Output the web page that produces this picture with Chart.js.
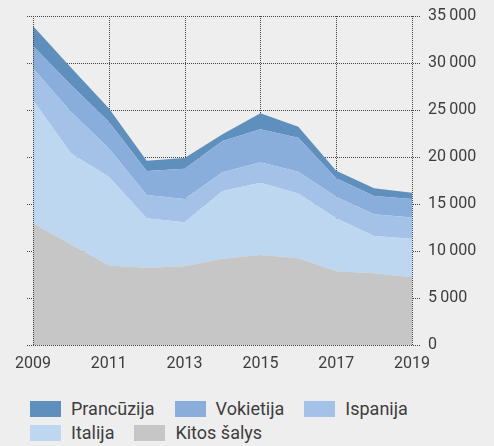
<!DOCTYPE html>
<html lang="lt">
  <head>
    <meta charset="utf-8" />
    <title>Eksportas pagal šalis</title>
    <script src="https://cdn.jsdelivr.net/npm/chart.js@4.4.0/dist/chart.umd.min.js"></script>
    <style>
      html,
      body {
        margin: 0;
        padding: 0;
        background: #eeeeee;
      }
      body {
        width: 494px;
        height: 446px;
        overflow: hidden;
        font-family: Roboto, sans-serif;
        color: #3d3d3d;
      }
      .chart-box {
        position: relative;
        width: 494px;
        height: 380px;
      }
      #legend {
        position: absolute;
        left: 30px;
        top: 397px;
        width: 440px;
        display: flex;
        flex-wrap: wrap;
        font-size: 18px;
        line-height: 24px;
      }
      #legend .item {
        display: flex;
        align-items: center;
        margin-right: 20px;
        height: 24px;
      }
      #legend .box {
        width: 31px;
        height: 16px;
        margin-right: 10px;
      }
    </style>
  </head>
  <body>
    <div class="chart-box">
      <canvas id="areaChart"></canvas>
    </div>
    <div id="legend"></div>

    <script>
      // years on the x axis, only every second one gets a label
      const years = [2009, 2010, 2011, 2012, 2013, 2014, 2015, 2016, 2017, 2018, 2019];
      const yTickLabels = ["0", "5\u2009000", "10\u2009000", "15\u2009000", "20\u2009000", "25\u2009000", "30\u2009000", "35\u2009000"];

      // series, bottom of the stack first
      const kitosSalys = [12950, 10700, 8450, 8220, 8370, 9180, 9570, 9220, 7840, 7630, 7200];
      const italija = [13110, 9690, 9450, 5260, 4680, 7200, 7700, 6910, 5640, 3970, 4110];
      const ispanija = [3370, 4430, 3020, 2480, 2480, 1990, 2160, 2310, 2300, 2300, 2250];
      const vokietija = [2380, 2840, 2840, 2550, 3230, 3330, 3510, 3620, 1950, 1950, 1970];
      const prancuzija = [2130, 1860, 1420, 1100, 1130, 710, 1710, 1170, 820, 820, 680];

      const gridColor = "#444444";

      // dotted grid: inner lines under the areas, frame lines on top
      const dottedGrid = {
        id: "dottedGrid",
        beforeDatasetsDraw(chart) {
          const { ctx, chartArea: a, scales } = chart;
          const x = scales.x, y = scales.y;
          ctx.save();
          ctx.strokeStyle = gridColor;
          ctx.lineWidth = 1;
          ctx.setLineDash([1, 1]);
          ctx.beginPath();
          y.ticks.forEach(function (t) {
            const py = Math.round(y.getPixelForValue(t.value)) + 0.5;
            ctx.moveTo(a.left - 6, py);
            ctx.lineTo(a.right + 9, py);
          });
          years.forEach(function (yr, i) {
            if (i % 2 === 0 && i > 0 && i < years.length - 1) {
              const px = Math.round(x.getPixelForValue(i)) + 0.5;
              ctx.moveTo(px, a.top);
              ctx.lineTo(px, a.bottom);
            }
          });
          ctx.stroke();
          ctx.restore();
        },
        afterDatasetsDraw(chart) {
          const { ctx, chartArea: a } = chart;
          const l = Math.round(a.left) + 0.5;
          const r = Math.round(a.right) + 0.5;
          const b = Math.round(a.bottom) + 0.5;
          ctx.save();
          ctx.strokeStyle = gridColor;
          ctx.lineWidth = 1;
          ctx.setLineDash([1, 1]);
          ctx.beginPath();
          ctx.moveTo(l, a.top);
          ctx.lineTo(l, a.bottom);
          ctx.moveTo(r, a.top);
          ctx.lineTo(r, a.bottom);
          ctx.moveTo(a.left - 6, b);
          ctx.lineTo(a.right + 9, b);
          ctx.stroke();
          ctx.restore();
        },
      };

      function area(label, data, color, fill) {
        return {
          label: label,
          data: data,
          backgroundColor: color,
          borderWidth: 0,
          pointRadius: 0,
          tension: 0,
          fill: fill,
        };
      }

      const datasets = [
        area("Kitos šalys", kitosSalys, "#c6c6c6", "origin"),
        area("Italija", italija, "#bdd7f1", "-1"),
        area("Ispanija", ispanija, "#a4c2e8", "-1"),
        area("Vokietija", vokietija, "#8aaedb", "-1"),
        area("Prancūzija", prancuzija, "#5f8fbd", "-1"),
      ];

      // invisible tick marks just to push labels away from the axis
      const hiddenTicks = {
        display: true,
        drawOnChartArea: false,
        drawTicks: true,
        color: "rgba(0,0,0,0)",
      };

      const chart = new Chart(document.getElementById("areaChart"), {
        type: "line",
        data: { labels: years, datasets: datasets },
        plugins: [dottedGrid],
        options: {
          responsive: true,
          maintainAspectRatio: false,
          animation: false,
          layout: { padding: { top: 16, left: 33, right: 0, bottom: 0 } },
          plugins: { legend: { display: false }, tooltip: { enabled: false } },
          scales: {
            x: {
              grid: Object.assign({}, hiddenTicks, { tickLength: 9 }),
              border: { display: false },
              ticks: {
                autoSkip: false,
                maxRotation: 0,
                padding: 0,
                color: "#3d3d3d",
                font: { family: "Roboto", size: 16 },
                callback: function (v, i) {
                  return i % 2 === 0 ? String(years[i]) : "";
                },
              },
              afterFit: function (scale) {
                scale.height = 35;
              },
            },
            y: {
              position: "right",
              stacked: true,
              min: 0,
              max: 35000,
              grid: Object.assign({}, hiddenTicks, { tickLength: 16 }),
              border: { display: false },
              ticks: {
                stepSize: 5000,
                padding: 0,
                color: "#3d3d3d",
                font: { family: "Roboto", size: 16 },
                callback: function (v, i) {
                  return yTickLabels[i];
                },
              },
              afterFit: function (scale) {
                scale.width = 82;
              },
            },
          },
        },
      });

      // legend, top series first
      const legendBox = document.getElementById("legend");
      datasets
        .slice()
        .reverse()
        .forEach(function (ds) {
          const item = document.createElement("div");
          item.className = "item";
          item.innerHTML =
            '<span class="box" style="background:' + ds.backgroundColor + '"></span>' + ds.label;
          legendBox.appendChild(item);
        });
    </script>
  </body>
</html>
